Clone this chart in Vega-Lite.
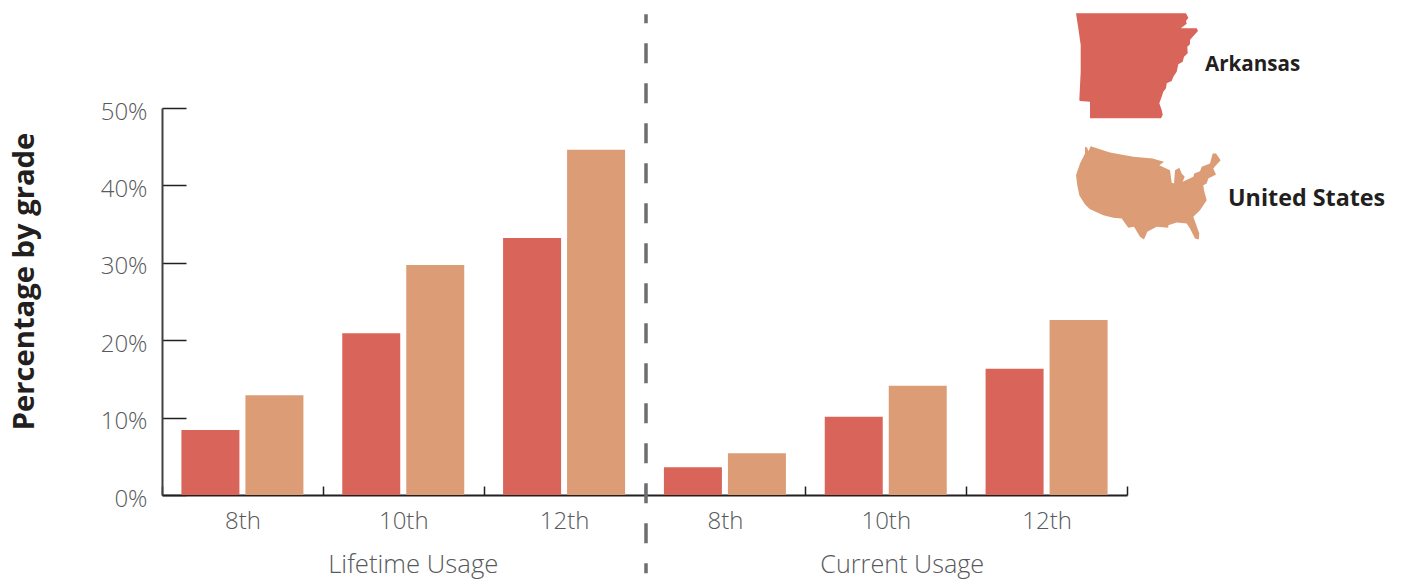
{
  "$schema": "https://vega.github.io/schema/vega-lite/v6.json",
  "width": 965,
  "height": 387,
  "autosize": {"type": "none"},
  "padding": {"left": 162, "top": 108, "right": 278, "bottom": 85},
  "background": "white",
  "config": {"view": {"stroke": null}, "font": "Open Sans"},
  "datasets": {
    "usage": [
      {"group": "Lifetime 8th", "series": "Arkansas", "pct": 8.4},
      {"group": "Lifetime 8th", "series": "United States", "pct": 12.9},
      {"group": "Lifetime 10th", "series": "Arkansas", "pct": 20.9},
      {"group": "Lifetime 10th", "series": "United States", "pct": 29.7},
      {"group": "Lifetime 12th", "series": "Arkansas", "pct": 33.2},
      {"group": "Lifetime 12th", "series": "United States", "pct": 44.6},
      {"group": "Current 8th", "series": "Arkansas", "pct": 3.6},
      {"group": "Current 8th", "series": "United States", "pct": 5.4},
      {"group": "Current 10th", "series": "Arkansas", "pct": 10.1},
      {"group": "Current 10th", "series": "United States", "pct": 14.1},
      {"group": "Current 12th", "series": "Arkansas", "pct": 16.3},
      {"group": "Current 12th", "series": "United States", "pct": 22.6}
    ],
    "divider": [{"group": "Current 8th", "top": 62.1, "bottom": -10.1}],
    "keyArkansas": [{"series": "Arkansas", "group": "Current 12th", "level": 55.5, "labelLevel": 55.55}],
    "keyUS": [{"series": "United States", "group": "Current 12th", "level": 39, "labelLevel": 38.25}]
  },
  "layer": [
    {
      "data": {"name": "usage"},
      "mark": {"type": "bar"},
      "encoding": {
        "x": {
          "field": "group",
          "type": "nominal",
          "sort": null,
          "scale": {
            "domain": ["Lifetime 8th", "Lifetime 10th", "Lifetime 12th", "Current 8th", "Current 10th", "Current 12th"],
            "paddingInner": 0,
            "paddingOuter": 0
          },
          "title": null,
          "axis": {
            "labelExpr": "split(datum.label, ' ')[1]",
            "labelAngle": 0,
            "labelFont": "Open Sans",
            "labelFontWeight": 300,
            "labelFontSize": 24,
            "labelColor": "#58595b",
            "labelPadding": 23,
            "tickBand": "extent",
            "tickSize": -9,
            "tickWidth": 1.5,
            "tickColor": "#231f20",
            "domainColor": "#231f20",
            "domainWidth": 2
          }
        },
        "xOffset": {
          "field": "series",
          "type": "nominal",
          "scale": {"paddingInner": 0.09375, "paddingOuter": 0.3034}
        },
        "y": {
          "field": "pct",
          "type": "quantitative",
          "scale": {"domain": [0, 50], "nice": false},
          "title": "Percentage by grade",
          "axis": {
            "values": [0, 10, 20, 30, 40, 50],
            "labelExpr": "datum.value + '%'",
            "grid": false,
            "labelFont": "Open Sans",
            "labelFontWeight": 300,
            "labelFontSize": 24,
            "labelColor": "#58595b",
            "labelPadding": 39,
            "labelOffset": 4,
            "tickSize": -24,
            "tickWidth": 1.5,
            "tickColor": "#231f20",
            "domainColor": "#414042",
            "domainWidth": 2,
            "titleFont": "Open Sans",
            "titleFontWeight": 700,
            "titleFontSize": 29.2,
            "titleColor": "#231f20",
            "titleX": -123,
            "titleY": 173,
            "titleAnchor": "middle"
          }
        },
        "color": {
          "field": "series",
          "type": "nominal",
          "scale": {"domain": ["Arkansas", "United States"], "range": ["#d9645a", "#dc9c76"]},
          "legend": null
        }
      }
    },
    {
      "data": {"name": "divider"},
      "mark": {"type": "rule", "color": "#6d6e71", "strokeWidth": 3.5, "strokeDash": [20, 20], "strokeDashOffset": 11, "xOffset": 1.5},
      "encoding": {
        "x": {"field": "group", "type": "nominal", "sort": null, "bandPosition": 0},
        "y": {"field": "top", "type": "quantitative"},
        "y2": {"field": "bottom"}
      }
    },
    {
      "data": {"values": [{"label": "Lifetime Usage", "group": "Lifetime 10th", "level": -9.1}]},
      "mark": {"type": "text", "font": "Open Sans", "fontWeight": 300, "fontSize": 25.7, "color": "#58595b", "dx": 10, "baseline": "middle"},
      "encoding": {
        "x": {"field": "group", "type": "nominal", "sort": null},
        "y": {"field": "level", "type": "quantitative"},
        "text": {"field": "label"}
      }
    },
    {
      "data": {"values": [{"label": "Current Usage", "group": "Current 10th", "level": -9.1}]},
      "mark": {"type": "text", "font": "Open Sans", "fontWeight": 300, "fontSize": 25.2, "color": "#58595b", "dx": 16.5, "baseline": "middle"},
      "encoding": {
        "x": {"field": "group", "type": "nominal", "sort": null},
        "y": {"field": "level", "type": "quantitative"},
        "text": {"field": "label"}
      }
    },
    {
      "data": {"name": "keyArkansas"},
      "mark": {
        "type": "point",
        "filled": true,
        "opacity": 1,
        "size": 4,
        "xOffset": 10,
        "shape": "M-61,-52.2L49,-52.2L51.3,-47.8L49,-44.5L49.7,-41.8L43.7,-37.2L59.7,-37.2L61,-34.5L58,-31.2L55.7,-28.8L53,-25.5L53,-21.2L50.3,-18.8L50.7,-12.2L47,-8.8L45.7,-3.8L41.3,-1.2L39.7,6.2L36.3,11.2L34.7,15.5L29.7,17.8L29,22.8L26.3,26.2L24.7,31.2L22.3,37.8L24.7,44.5L25.7,49.5L24,52.8L-47,52.8L-47,36.2L-57,35.5L-57.7,34.5L-56.3,6.2L-56.3,-20.5L-58.7,-37.2Z"
      },
      "encoding": {
        "x": {"field": "group", "type": "nominal", "sort": null, "bandPosition": 1},
        "y": {"field": "level", "type": "quantitative"},
        "color": {"field": "series", "type": "nominal"}
      }
    },
    {
      "data": {"name": "keyUS"},
      "mark": {
        "type": "point",
        "filled": true,
        "opacity": 1,
        "size": 4,
        "xOffset": 21.5,
        "shape": "M-63.5,-46.3L-61.2,-45.3L-60.2,-42L-57.8,-47L-38.5,-40.7L-15.2,-36.3L4.2,-34.7L6.5,-34L15.5,-31.3L10.8,-28L21.5,-23L23.2,-10.3L25.5,-9.7L26.5,-23L30.8,-25.3L33.2,-19.7L36.2,-16.3L34.2,-11.3L44.8,-16.3L45.8,-19.7L51.5,-22L53.2,-26.3L61.5,-29.7L64.2,-39.7L67.5,-39.7L72.2,-33L67.5,-28L64.8,-24.7L67.5,-18.7L59.8,-14.7L58.2,-9.7L54.8,-8L55.5,-3L58.2,7L51.5,17L44.8,23.7L50.8,40.3L50.2,46.3L46.5,45.3L41.5,35.3L38.2,30.3L28.2,29.3L19.8,32L19.8,34.7L8.2,33.7L-1.2,38.7L-4.5,46.3L-8.5,43.7L-14.5,33.7L-20.2,34.7L-26.8,25.3L-35.2,24.7L-45.2,22L-58.5,16L-63.5,11.3L-69.2,2L-71.2,-8L-72.5,-18L-68.5,-29.7L-63.5,-39.7Z"
      },
      "encoding": {
        "x": {"field": "group", "type": "nominal", "sort": null, "bandPosition": 1},
        "y": {"field": "level", "type": "quantitative"},
        "color": {"field": "series", "type": "nominal"}
      }
    },
    {
      "data": {"name": "keyArkansas"},
      "mark": {"type": "text", "font": "Open Sans", "fontWeight": 700, "fontSize": 20.6, "color": "#231f20", "align": "left", "baseline": "middle", "dx": 78},
      "encoding": {
        "x": {"field": "group", "type": "nominal", "sort": null, "bandPosition": 1},
        "y": {"field": "labelLevel", "type": "quantitative"},
        "text": {"field": "series"}
      }
    },
    {
      "data": {"name": "keyUS"},
      "mark": {"type": "text", "font": "Open Sans", "fontWeight": 700, "fontSize": 23.3, "color": "#231f20", "align": "left", "baseline": "middle", "dx": 101},
      "encoding": {
        "x": {"field": "group", "type": "nominal", "sort": null, "bandPosition": 1},
        "y": {"field": "labelLevel", "type": "quantitative"},
        "text": {"field": "series"}
      }
    }
  ]
}
